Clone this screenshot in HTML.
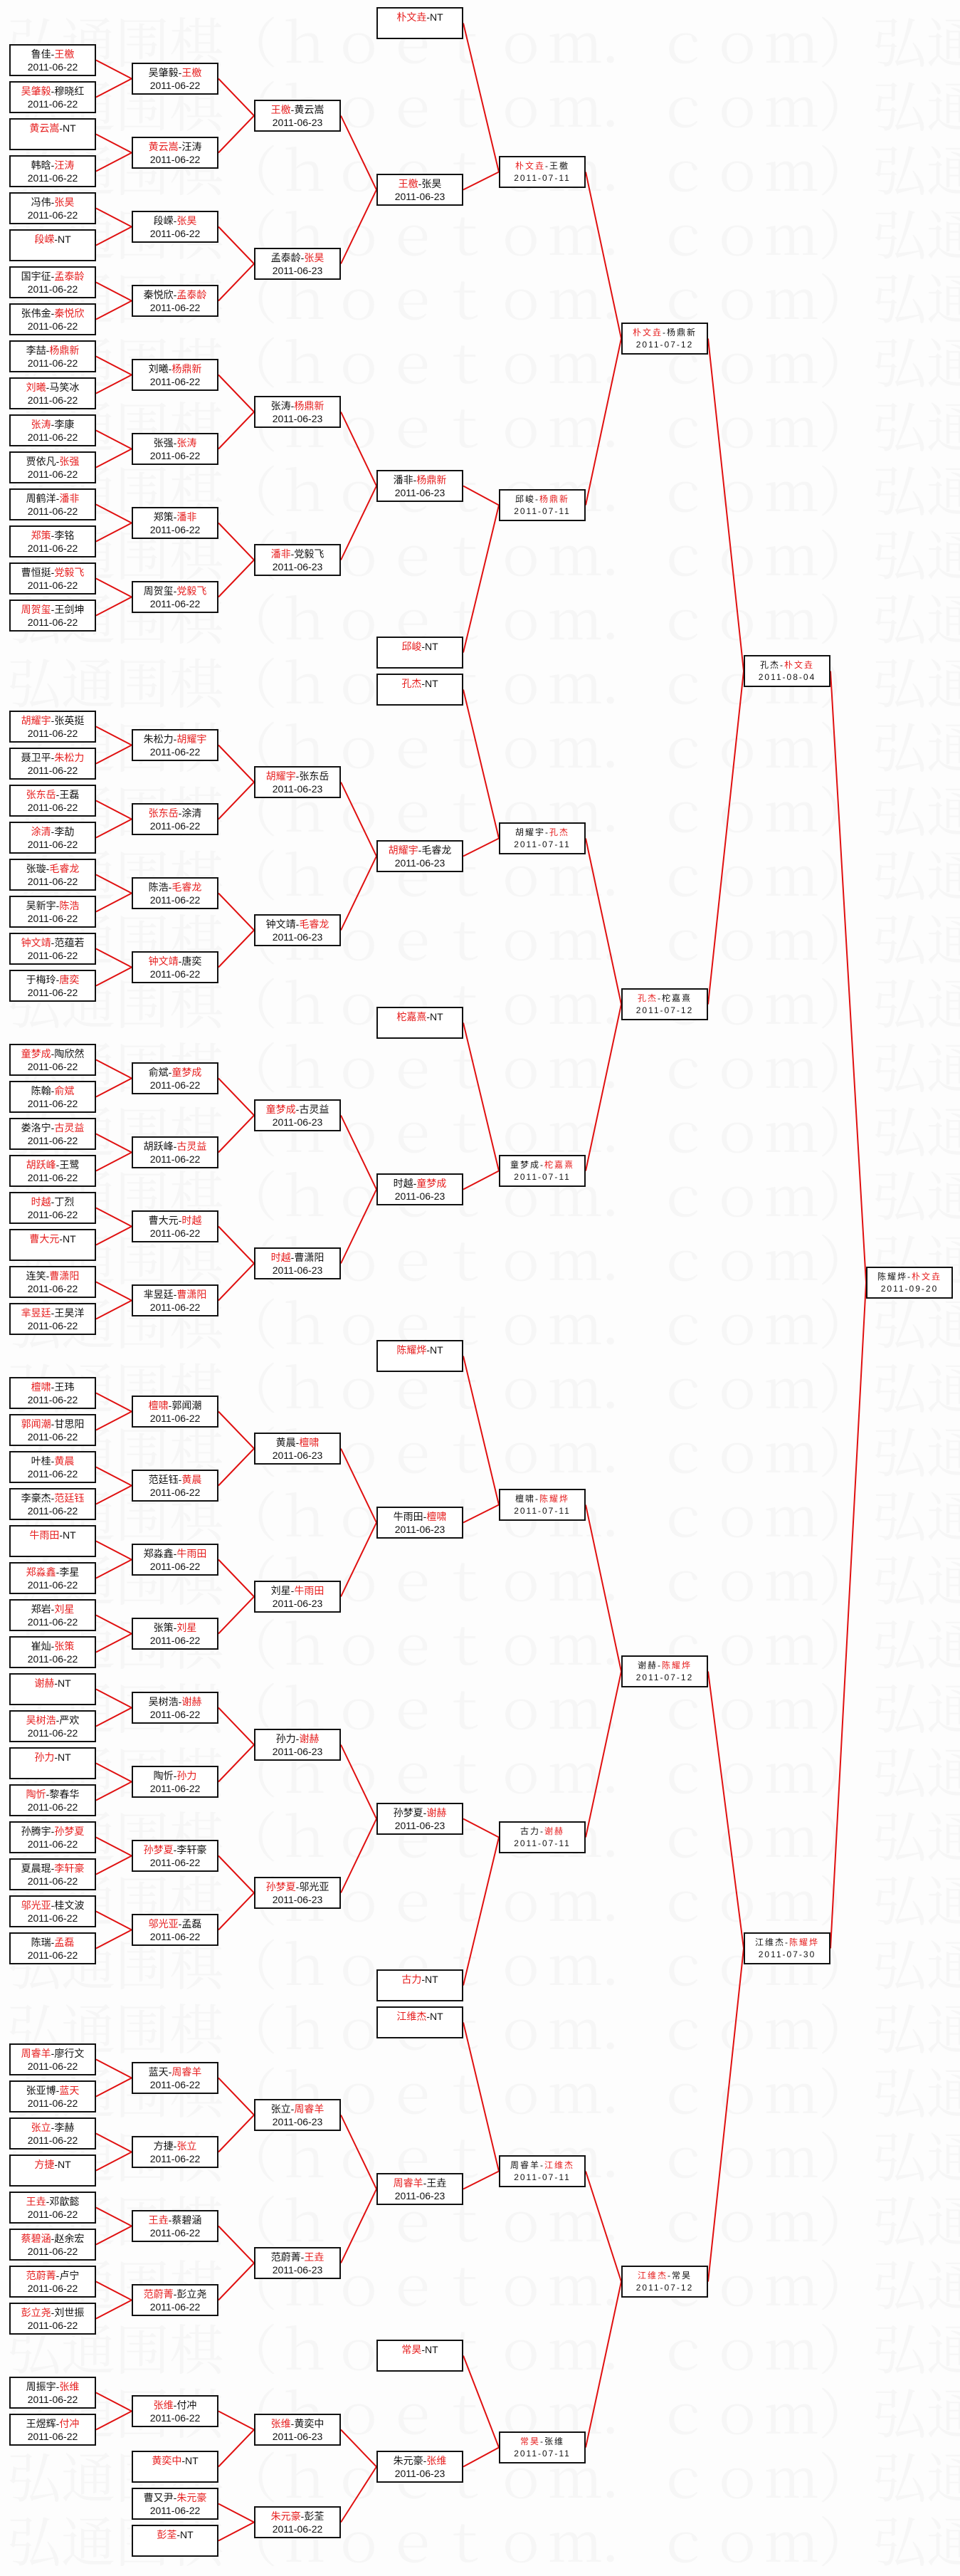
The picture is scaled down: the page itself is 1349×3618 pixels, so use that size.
<!DOCTYPE html>
<html><head><meta charset="utf-8">
<style>
html,body{margin:0;padding:0;}
body{width:1349px;height:3601px;position:relative;background:#fdfdfd;overflow:hidden;}
.wm{position:absolute;left:10px;top:18px;width:1349px;font:76px/90px "Liberation Serif","Noto Serif CJK SC",serif;color:#f6f6f6;white-space:nowrap;}
svg{position:absolute;left:0;top:0;}
.b{position:absolute;box-sizing:border-box;width:122px;height:45px;border:2px solid #111;background:#fff;text-align:center;font:14px/18px "Liberation Sans","Noto Sans CJK SC",sans-serif;color:#111;padding-top:3px;white-space:nowrap;}
.s{font-size:12px;letter-spacing:2px;line-height:17px;padding-top:4px;}
.b i{font-style:normal;color:#e61e1e;}
.c1{left:13px}.c2{left:185px}.c3{left:357px}.c4{left:529px}.c5{left:701px}.c6{left:873px}.c7{left:1045px}.c8{left:1217px}
</style></head><body>
<div class="wm">
弘通围棋（ｈｏｅｔｏｍ．ｃｏｍ）弘通<br>弘通围棋（ｈｏｅｔｏｍ．ｃｏｍ）弘通<br>弘通围棋（ｈｏｅｔｏｍ．ｃｏｍ）弘通<br>弘通围棋（ｈｏｅｔｏｍ．ｃｏｍ）弘通<br>弘通围棋（ｈｏｅｔｏｍ．ｃｏｍ）弘通<br>弘通围棋（ｈｏｅｔｏｍ．ｃｏｍ）弘通<br>弘通围棋（ｈｏｅｔｏｍ．ｃｏｍ）弘通<br>弘通围棋（ｈｏｅｔｏｍ．ｃｏｍ）弘通<br>弘通围棋（ｈｏｅｔｏｍ．ｃｏｍ）弘通<br>弘通围棋（ｈｏｅｔｏｍ．ｃｏｍ）弘通<br>
弘通围棋（ｈｏｅｔｏｍ．ｃｏｍ）弘通<br>弘通围棋（ｈｏｅｔｏｍ．ｃｏｍ）弘通<br>弘通围棋（ｈｏｅｔｏｍ．ｃｏｍ）弘通<br>弘通围棋（ｈｏｅｔｏｍ．ｃｏｍ）弘通<br>弘通围棋（ｈｏｅｔｏｍ．ｃｏｍ）弘通<br>弘通围棋（ｈｏｅｔｏｍ．ｃｏｍ）弘通<br>弘通围棋（ｈｏｅｔｏｍ．ｃｏｍ）弘通<br>弘通围棋（ｈｏｅｔｏｍ．ｃｏｍ）弘通<br>弘通围棋（ｈｏｅｔｏｍ．ｃｏｍ）弘通<br>弘通围棋（ｈｏｅｔｏｍ．ｃｏｍ）弘通<br>
弘通围棋（ｈｏｅｔｏｍ．ｃｏｍ）弘通<br>弘通围棋（ｈｏｅｔｏｍ．ｃｏｍ）弘通<br>弘通围棋（ｈｏｅｔｏｍ．ｃｏｍ）弘通<br>弘通围棋（ｈｏｅｔｏｍ．ｃｏｍ）弘通<br>弘通围棋（ｈｏｅｔｏｍ．ｃｏｍ）弘通<br>弘通围棋（ｈｏｅｔｏｍ．ｃｏｍ）弘通<br>弘通围棋（ｈｏｅｔｏｍ．ｃｏｍ）弘通<br>弘通围棋（ｈｏｅｔｏｍ．ｃｏｍ）弘通<br>弘通围棋（ｈｏｅｔｏｍ．ｃｏｍ）弘通<br>弘通围棋（ｈｏｅｔｏｍ．ｃｏｍ）弘通<br>
弘通围棋（ｈｏｅｔｏｍ．ｃｏｍ）弘通<br>弘通围棋（ｈｏｅｔｏｍ．ｃｏｍ）弘通<br>弘通围棋（ｈｏｅｔｏｍ．ｃｏｍ）弘通<br>弘通围棋（ｈｏｅｔｏｍ．ｃｏｍ）弘通<br>弘通围棋（ｈｏｅｔｏｍ．ｃｏｍ）弘通<br>弘通围棋（ｈｏｅｔｏｍ．ｃｏｍ）弘通<br>弘通围棋（ｈｏｅｔｏｍ．ｃｏｍ）弘通<br>弘通围棋（ｈｏｅｔｏｍ．ｃｏｍ）弘通<br>弘通围棋（ｈｏｅｔｏｍ．ｃｏｍ）弘通<br>弘通围棋（ｈｏｅｔｏｍ．ｃｏｍ）弘通<br>
</div>
<svg width="1349" height="3601" viewBox="0 0 1349 3601"><g fill="none" stroke="#e01010" stroke-width="2">
<polyline points="135,84.5 185,110.5 135,136.5"/>
<polyline points="135,188.5 185,214.5 135,240.5"/>
<polyline points="135,292.5 185,318.5 135,344.5"/>
<polyline points="135,396.5 185,422.5 135,448.5"/>
<polyline points="135,500.5 185,526.5 135,552.5"/>
<polyline points="135,604.5 185,630.5 135,656.5"/>
<polyline points="135,708.5 185,734.5 135,760.5"/>
<polyline points="135,812.5 185,838.5 135,864.5"/>
<polyline points="135,1020.5 185,1046.5 135,1072.5"/>
<polyline points="135,1124.5 185,1150.5 135,1176.5"/>
<polyline points="135,1228.5 185,1254.5 135,1280.5"/>
<polyline points="135,1332.5 185,1358.5 135,1384.5"/>
<polyline points="135,1488.5 185,1514.5 135,1540.5"/>
<polyline points="135,1592.5 185,1618.5 135,1644.5"/>
<polyline points="135,1696.5 185,1722.5 135,1748.5"/>
<polyline points="135,1800.5 185,1826.5 135,1852.5"/>
<polyline points="135,1956.5 185,1982.5 135,2008.5"/>
<polyline points="135,2060.5 185,2086.5 135,2112.5"/>
<polyline points="135,2164.5 185,2190.5 135,2216.5"/>
<polyline points="135,2268.5 185,2294.5 135,2320.5"/>
<polyline points="135,2372.5 185,2398.5 135,2424.5"/>
<polyline points="135,2476.5 185,2502.5 135,2528.5"/>
<polyline points="135,2580.5 185,2606.5 135,2632.5"/>
<polyline points="135,2684.5 185,2710.5 135,2736.5"/>
<polyline points="135,2892.5 185,2918.5 135,2944.5"/>
<polyline points="135,2996.5 185,3022.5 135,3048.5"/>
<polyline points="135,3100.5 185,3126.5 135,3152.5"/>
<polyline points="135,3204.5 185,3230.5 135,3256.5"/>
<polyline points="135,3360.5 185,3386.5 135,3412.5"/>

<polyline points="307,110.5 357,162.5 307,214.5"/>
<polyline points="307,318.5 357,370.5 307,422.5"/>
<polyline points="307,526.5 357,578.5 307,630.5"/>
<polyline points="307,734.5 357,786.5 307,838.5"/>
<polyline points="307,1046.5 357,1098.5 307,1150.5"/>
<polyline points="307,1254.5 357,1306.5 307,1358.5"/>
<polyline points="307,1514.5 357,1566.5 307,1618.5"/>
<polyline points="307,1722.5 357,1774.5 307,1826.5"/>
<polyline points="307,1982.5 357,2034.5 307,2086.5"/>
<polyline points="307,2190.5 357,2242.5 307,2294.5"/>
<polyline points="307,2398.5 357,2450.5 307,2502.5"/>
<polyline points="307,2606.5 357,2658.5 307,2710.5"/>
<polyline points="307,2918.5 357,2970.5 307,3022.5"/>
<polyline points="307,3126.5 357,3178.5 307,3230.5"/>
<polyline points="307,3386.5 357,3412.5 307,3464.5"/>
<polyline points="307,3516.5 357,3542.5 307,3568.5"/>

<polyline points="479,162.5 529,266.5 479,370.5"/>
<polyline points="479,578.5 529,682.5 479,786.5"/>
<polyline points="479,1098.5 529,1202.5 479,1306.5"/>
<polyline points="479,1566.5 529,1670.5 479,1774.5"/>
<polyline points="479,2034.5 529,2138.5 479,2242.5"/>
<polyline points="479,2450.5 529,2554.5 479,2658.5"/>
<polyline points="479,2970.5 529,3074.5 479,3178.5"/>
<polyline points="479,3412.5 529,3464.5 479,3542.5"/>

<polyline points="651,32.5 701,241.5 651,266.5"/>
<polyline points="651,682.5 701,709.5 651,916.5"/>
<polyline points="651,968.5 701,1177.5 651,1202.5"/>
<polyline points="651,1436.5 701,1644.5 651,1670.5"/>
<polyline points="651,1904.5 701,2113.5 651,2138.5"/>
<polyline points="651,2554.5 701,2580.5 651,2788.5"/>
<polyline points="651,2840.5 701,3049.5 651,3074.5"/>
<polyline points="651,3308.5 701,3437.5 651,3464.5"/>

<polyline points="823,241.5 873,475.5 823,709.5"/>
<polyline points="823,1177.5 873,1410.5 823,1644.5"/>
<polyline points="823,2113.5 873,2347.5 823,2580.5"/>
<polyline points="823,3049.5 873,3204.5 823,3437.5"/>

<polyline points="995,475.5 1045,942.5 995,1410.5"/>
<polyline points="995,2347.5 1045,2736.5 995,3204.5"/>

<polyline points="1167,942.5 1217,1801.5 1167,2736.5"/>
</g></svg>

<div class="b c1" style="top:62px">鲁佳-<i>王檄</i><br>2011-06-22</div>
<div class="b c1" style="top:114px"><i>吴肇毅</i>-穆晓红<br>2011-06-22</div>
<div class="b c1" style="top:166px"><i>黄云嵩</i>-NT</div>
<div class="b c1" style="top:218px">韩晗-<i>汪涛</i><br>2011-06-22</div>
<div class="b c1" style="top:270px">冯伟-<i>张昊</i><br>2011-06-22</div>
<div class="b c1" style="top:322px"><i>段嵘</i>-NT</div>
<div class="b c1" style="top:374px">国宇征-<i>孟泰龄</i><br>2011-06-22</div>
<div class="b c1" style="top:426px">张伟金-<i>秦悦欣</i><br>2011-06-22</div>
<div class="b c1" style="top:478px">李喆-<i>杨鼎新</i><br>2011-06-22</div>
<div class="b c1" style="top:530px"><i>刘曦</i>-马笑冰<br>2011-06-22</div>
<div class="b c1" style="top:582px"><i>张涛</i>-李康<br>2011-06-22</div>
<div class="b c1" style="top:634px">贾依凡-<i>张强</i><br>2011-06-22</div>
<div class="b c1" style="top:686px">周鹤洋-<i>潘非</i><br>2011-06-22</div>
<div class="b c1" style="top:738px"><i>郑策</i>-李铭<br>2011-06-22</div>
<div class="b c1" style="top:790px">曹恒挺-<i>党毅飞</i><br>2011-06-22</div>
<div class="b c1" style="top:842px"><i>周贺玺</i>-王剑坤<br>2011-06-22</div>

<div class="b c1" style="top:998px"><i>胡耀宇</i>-张英挺<br>2011-06-22</div>
<div class="b c1" style="top:1050px">聂卫平-<i>朱松力</i><br>2011-06-22</div>
<div class="b c1" style="top:1102px"><i>张东岳</i>-王磊<br>2011-06-22</div>
<div class="b c1" style="top:1154px"><i>涂清</i>-李劼<br>2011-06-22</div>
<div class="b c1" style="top:1206px">张璇-<i>毛睿龙</i><br>2011-06-22</div>
<div class="b c1" style="top:1258px">吴新宇-<i>陈浩</i><br>2011-06-22</div>
<div class="b c1" style="top:1310px"><i>钟文靖</i>-范蕴若<br>2011-06-22</div>
<div class="b c1" style="top:1362px">于梅玲-<i>唐奕</i><br>2011-06-22</div>

<div class="b c1" style="top:1466px"><i>童梦成</i>-陶欣然<br>2011-06-22</div>
<div class="b c1" style="top:1518px">陈翰-<i>俞斌</i><br>2011-06-22</div>
<div class="b c1" style="top:1570px">娄洛宁-<i>古灵益</i><br>2011-06-22</div>
<div class="b c1" style="top:1622px"><i>胡跃峰</i>-王鹭<br>2011-06-22</div>
<div class="b c1" style="top:1674px"><i>时越</i>-丁烈<br>2011-06-22</div>
<div class="b c1" style="top:1726px"><i>曹大元</i>-NT</div>
<div class="b c1" style="top:1778px">连笑-<i>曹潇阳</i><br>2011-06-22</div>
<div class="b c1" style="top:1830px"><i>芈昱廷</i>-王昊洋<br>2011-06-22</div>

<div class="b c1" style="top:1934px"><i>檀啸</i>-王玮<br>2011-06-22</div>
<div class="b c1" style="top:1986px"><i>郭闻潮</i>-甘思阳<br>2011-06-22</div>
<div class="b c1" style="top:2038px">叶桂-<i>黄晨</i><br>2011-06-22</div>
<div class="b c1" style="top:2090px">李豪杰-<i>范廷钰</i><br>2011-06-22</div>
<div class="b c1" style="top:2142px"><i>牛雨田</i>-NT</div>
<div class="b c1" style="top:2194px"><i>郑淼鑫</i>-李星<br>2011-06-22</div>
<div class="b c1" style="top:2246px">郑岩-<i>刘星</i><br>2011-06-22</div>
<div class="b c1" style="top:2298px">崔灿-<i>张策</i><br>2011-06-22</div>

<div class="b c1" style="top:2350px"><i>谢赫</i>-NT</div>
<div class="b c1" style="top:2402px"><i>吴树浩</i>-严欢<br>2011-06-22</div>
<div class="b c1" style="top:2454px"><i>孙力</i>-NT</div>
<div class="b c1" style="top:2506px"><i>陶忻</i>-黎春华<br>2011-06-22</div>
<div class="b c1" style="top:2558px">孙腾宇-<i>孙梦夏</i><br>2011-06-22</div>
<div class="b c1" style="top:2610px">夏晨琨-<i>李轩豪</i><br>2011-06-22</div>
<div class="b c1" style="top:2662px"><i>邬光亚</i>-桂文波<br>2011-06-22</div>
<div class="b c1" style="top:2714px">陈瑞-<i>孟磊</i><br>2011-06-22</div>

<div class="b c1" style="top:2870px"><i>周睿羊</i>-廖行文<br>2011-06-22</div>
<div class="b c1" style="top:2922px">张亚博-<i>蓝天</i><br>2011-06-22</div>
<div class="b c1" style="top:2974px"><i>张立</i>-李赫<br>2011-06-22</div>
<div class="b c1" style="top:3026px"><i>方捷</i>-NT</div>
<div class="b c1" style="top:3078px"><i>王垚</i>-邓歆懿<br>2011-06-22</div>
<div class="b c1" style="top:3130px"><i>蔡碧涵</i>-赵余宏<br>2011-06-22</div>
<div class="b c1" style="top:3182px"><i>范蔚菁</i>-卢宁<br>2011-06-22</div>
<div class="b c1" style="top:3234px"><i>彭立尧</i>-刘世振<br>2011-06-22</div>

<div class="b c1" style="top:3338px">周振宇-<i>张维</i><br>2011-06-22</div>
<div class="b c1" style="top:3390px">王煜辉-<i>付冲</i><br>2011-06-22</div>

<div class="b c2" style="top:88px">吴肇毅-<i>王檄</i><br>2011-06-22</div>
<div class="b c2" style="top:192px"><i>黄云嵩</i>-汪涛<br>2011-06-22</div>
<div class="b c2" style="top:296px">段嵘-<i>张昊</i><br>2011-06-22</div>
<div class="b c2" style="top:400px">秦悦欣-<i>孟泰龄</i><br>2011-06-22</div>
<div class="b c2" style="top:504px">刘曦-<i>杨鼎新</i><br>2011-06-22</div>
<div class="b c2" style="top:608px">张强-<i>张涛</i><br>2011-06-22</div>
<div class="b c2" style="top:712px">郑策-<i>潘非</i><br>2011-06-22</div>
<div class="b c2" style="top:816px">周贺玺-<i>党毅飞</i><br>2011-06-22</div>
<div class="b c2" style="top:1024px">朱松力-<i>胡耀宇</i><br>2011-06-22</div>
<div class="b c2" style="top:1128px"><i>张东岳</i>-涂清<br>2011-06-22</div>
<div class="b c2" style="top:1232px">陈浩-<i>毛睿龙</i><br>2011-06-22</div>
<div class="b c2" style="top:1336px"><i>钟文靖</i>-唐奕<br>2011-06-22</div>
<div class="b c2" style="top:1492px">俞斌-<i>童梦成</i><br>2011-06-22</div>
<div class="b c2" style="top:1596px">胡跃峰-<i>古灵益</i><br>2011-06-22</div>
<div class="b c2" style="top:1700px">曹大元-<i>时越</i><br>2011-06-22</div>
<div class="b c2" style="top:1804px">芈昱廷-<i>曹潇阳</i><br>2011-06-22</div>
<div class="b c2" style="top:1960px"><i>檀啸</i>-郭闻潮<br>2011-06-22</div>
<div class="b c2" style="top:2064px">范廷钰-<i>黄晨</i><br>2011-06-22</div>
<div class="b c2" style="top:2168px">郑淼鑫-<i>牛雨田</i><br>2011-06-22</div>
<div class="b c2" style="top:2272px">张策-<i>刘星</i><br>2011-06-22</div>
<div class="b c2" style="top:2376px">吴树浩-<i>谢赫</i><br>2011-06-22</div>
<div class="b c2" style="top:2480px">陶忻-<i>孙力</i><br>2011-06-22</div>
<div class="b c2" style="top:2584px"><i>孙梦夏</i>-李轩豪<br>2011-06-22</div>
<div class="b c2" style="top:2688px"><i>邬光亚</i>-孟磊<br>2011-06-22</div>
<div class="b c2" style="top:2896px">蓝天-<i>周睿羊</i><br>2011-06-22</div>
<div class="b c2" style="top:3000px">方捷-<i>张立</i><br>2011-06-22</div>
<div class="b c2" style="top:3104px"><i>王垚</i>-蔡碧涵<br>2011-06-22</div>
<div class="b c2" style="top:3208px"><i>范蔚菁</i>-彭立尧<br>2011-06-22</div>
<div class="b c2" style="top:3364px"><i>张维</i>-付冲<br>2011-06-22</div>
<div class="b c2" style="top:3442px"><i>黄奕中</i>-NT</div>
<div class="b c2" style="top:3494px">曹又尹-<i>朱元豪</i><br>2011-06-22</div>
<div class="b c2" style="top:3546px"><i>彭荃</i>-NT</div>

<div class="b c3" style="top:140px"><i>王檄</i>-黄云嵩<br>2011-06-23</div>
<div class="b c3" style="top:348px">孟泰龄-<i>张昊</i><br>2011-06-23</div>
<div class="b c3" style="top:556px">张涛-<i>杨鼎新</i><br>2011-06-23</div>
<div class="b c3" style="top:764px"><i>潘非</i>-党毅飞<br>2011-06-23</div>
<div class="b c3" style="top:1076px"><i>胡耀宇</i>-张东岳<br>2011-06-23</div>
<div class="b c3" style="top:1284px">钟文靖-<i>毛睿龙</i><br>2011-06-23</div>
<div class="b c3" style="top:1544px"><i>童梦成</i>-古灵益<br>2011-06-23</div>
<div class="b c3" style="top:1752px"><i>时越</i>-曹潇阳<br>2011-06-23</div>
<div class="b c3" style="top:2012px">黄晨-<i>檀啸</i><br>2011-06-23</div>
<div class="b c3" style="top:2220px">刘星-<i>牛雨田</i><br>2011-06-23</div>
<div class="b c3" style="top:2428px">孙力-<i>谢赫</i><br>2011-06-23</div>
<div class="b c3" style="top:2636px"><i>孙梦夏</i>-邬光亚<br>2011-06-23</div>
<div class="b c3" style="top:2948px">张立-<i>周睿羊</i><br>2011-06-23</div>
<div class="b c3" style="top:3156px">范蔚菁-<i>王垚</i><br>2011-06-23</div>
<div class="b c3" style="top:3390px"><i>张维</i>-黄奕中<br>2011-06-23</div>
<div class="b c3" style="top:3520px"><i>朱元豪</i>-彭荃<br>2011-06-22</div>

<div class="b c4" style="top:10px"><i>朴文垚</i>-NT</div>
<div class="b c4" style="top:244px"><i>王檄</i>-张昊<br>2011-06-23</div>
<div class="b c4" style="top:660px">潘非-<i>杨鼎新</i><br>2011-06-23</div>
<div class="b c4" style="top:894px"><i>邱峻</i>-NT</div>
<div class="b c4" style="top:946px"><i>孔杰</i>-NT</div>
<div class="b c4" style="top:1180px"><i>胡耀宇</i>-毛睿龙<br>2011-06-23</div>
<div class="b c4" style="top:1414px"><i>柁嘉熹</i>-NT</div>
<div class="b c4" style="top:1648px">时越-<i>童梦成</i><br>2011-06-23</div>
<div class="b c4" style="top:1882px"><i>陈耀烨</i>-NT</div>
<div class="b c4" style="top:2116px">牛雨田-<i>檀啸</i><br>2011-06-23</div>
<div class="b c4" style="top:2532px">孙梦夏-<i>谢赫</i><br>2011-06-23</div>
<div class="b c4" style="top:2766px"><i>古力</i>-NT</div>
<div class="b c4" style="top:2818px"><i>江维杰</i>-NT</div>
<div class="b c4" style="top:3052px"><i>周睿羊</i>-王垚<br>2011-06-23</div>
<div class="b c4" style="top:3286px"><i>常昊</i>-NT</div>
<div class="b c4" style="top:3442px">朱元豪-<i>张维</i><br>2011-06-23</div>

<div class="b s c5" style="top:219px"><i>朴文垚</i>-王檄<br>2011-07-11</div>
<div class="b s c5" style="top:687px">邱峻-<i>杨鼎新</i><br>2011-07-11</div>
<div class="b s c5" style="top:1155px">胡耀宇-<i>孔杰</i><br>2011-07-11</div>
<div class="b s c5" style="top:1622px">童梦成-<i>柁嘉熹</i><br>2011-07-11</div>
<div class="b s c5" style="top:2091px">檀啸-<i>陈耀烨</i><br>2011-07-11</div>
<div class="b s c5" style="top:2558px">古力-<i>谢赫</i><br>2011-07-11</div>
<div class="b s c5" style="top:3027px">周睿羊-<i>江维杰</i><br>2011-07-11</div>
<div class="b s c5" style="top:3415px"><i>常昊</i>-张维<br>2011-07-11</div>

<div class="b s c6" style="top:453px"><i>朴文垚</i>-杨鼎新<br>2011-07-12</div>
<div class="b s c6" style="top:1388px"><i>孔杰</i>-柁嘉熹<br>2011-07-12</div>
<div class="b s c6" style="top:2325px">谢赫-<i>陈耀烨</i><br>2011-07-12</div>
<div class="b s c6" style="top:3182px"><i>江维杰</i>-常昊<br>2011-07-12</div>

<div class="b s c7" style="top:920px">孔杰-<i>朴文垚</i><br>2011-08-04</div>
<div class="b s c7" style="top:2714px">江维杰-<i>陈耀烨</i><br>2011-07-30</div>

<div class="b s c8" style="top:1779px">陈耀烨-<i>朴文垚</i><br>2011-09-20</div>
</body></html>
